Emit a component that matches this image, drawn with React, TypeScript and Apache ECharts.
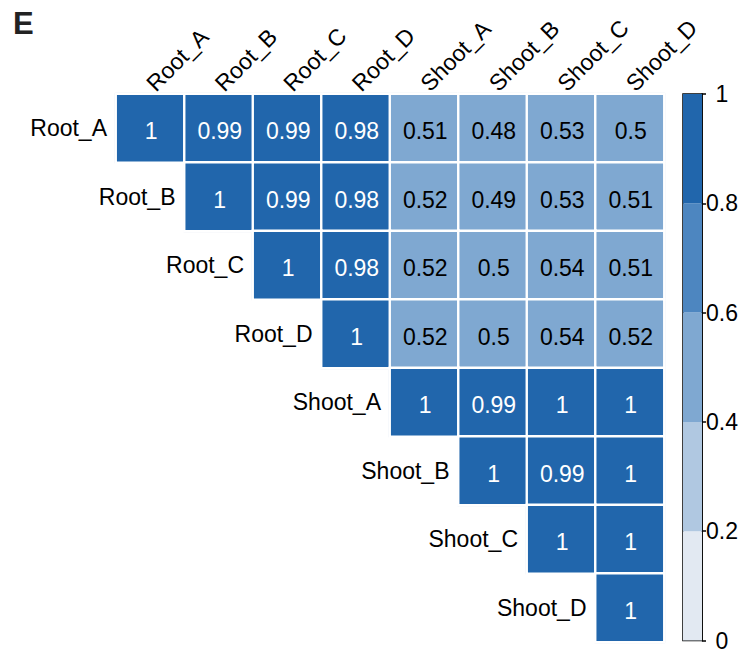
import React, { useEffect, useRef } from "react";
import * as echarts from "echarts";

// Sample names (shared by rows and columns)
const sampleNames = ["Root_A", "Root_B", "Root_C", "Root_D", "Shoot_A", "Shoot_B", "Shoot_C", "Shoot_D"];

// Upper-triangle correlation rows, each starting at the diagonal
const rowRootA = [1, 0.99, 0.99, 0.98, 0.51, 0.48, 0.53, 0.5];
const rowRootB = [1, 0.99, 0.98, 0.52, 0.49, 0.53, 0.51];
const rowRootC = [1, 0.98, 0.52, 0.5, 0.54, 0.51];
const rowRootD = [1, 0.52, 0.5, 0.54, 0.52];
const rowShootA = [1, 0.99, 1, 1];
const rowShootB = [1, 0.99, 1];
const rowShootC = [1, 1];
const rowShootD = [1];

// Colour bands of the legend scale
const bandEdges = [0, 0.2, 0.4, 0.6, 0.8, 1];
const bandColors = ["#e2e9f2", "#b0c8e1", "#7fa8d1", "#4d86c0", "#2166ac"];
const colorbarTicks = [0, 0.2, 0.4, 0.6, 0.8, 1];

const FONT = "'Liberation Sans', Arial, Helvetica, sans-serif";

export default function App() {
  const ref = useRef<HTMLDivElement>(null);

  useEffect(() => {
    if (!ref.current) return;
    const chart = echarts.init(ref.current, null, { renderer: "svg" });

    const rows = [rowRootA, rowRootB, rowRootC, rowRootD, rowShootA, rowShootB, rowShootC, rowShootD];
    const cells: { value: [number, number, number]; label: { color: string } }[] = [];
    rows.forEach((row, r) => {
      row.forEach((v, k) => {
        cells.push({ value: [r + k, r, v], label: { color: v >= 0.8 ? "#ffffff" : "#000000" } });
      });
    });
    const diag = sampleNames.map((_, i) => [i, i]);

    const pieces = bandColors.map((c, i) => ({
      gte: bandEdges[i],
      lt: i === bandColors.length - 1 ? 1.0001 : bandEdges[i + 1],
      color: c,
    }));

    const barSeries = bandColors.map((c, i) => ({
      type: "bar" as const,
      stack: "scale",
      xAxisIndex: 1,
      yAxisIndex: 1,
      barWidth: "100%",
      data: [bandEdges[i + 1] - bandEdges[i]],
      itemStyle: { color: c },
      silent: true,
    }));

    chart.setOption({
      animation: false,
      backgroundColor: "#ffffff",
      textStyle: { fontFamily: FONT },
      graphic: [
        {
          type: "text",
          left: 13,
          top: 8,
          style: { text: "E", font: `bold 31px ${FONT}`, fill: "#222222" },
        },
      ],
      grid: [
        { left: 116, top: 94, width: 548, height: 548 },
        { left: 683, top: 94, width: 19, height: 548, show: true, borderColor: "#000", borderWidth: 1.5, backgroundColor: "transparent" },
      ],
      xAxis: [
        {
          type: "category",
          gridIndex: 0,
          data: sampleNames,
          position: "top",
          axisLine: { show: false },
          axisTick: { show: false },
          splitLine: { show: false },
          axisLabel: { rotate: -45, fontSize: 23, color: "#000", fontFamily: FONT, margin: 7, interval: 0 },
        },
        { type: "category", gridIndex: 1, data: [""], show: false },
      ],
      yAxis: [
        {
          type: "category",
          gridIndex: 0,
          data: sampleNames,
          inverse: true,
          axisLine: { show: false },
          axisTick: { show: false },
          axisLabel: { show: false },
          splitLine: { show: false },
        },
        {
          type: "value",
          gridIndex: 1,
          min: colorbarTicks[0],
          max: colorbarTicks[colorbarTicks.length - 1],
          interval: 0.2,
          position: "right",
          axisLine: { show: true, lineStyle: { color: "#000", width: 1.5 } },
          axisTick: { show: true, length: 4, lineStyle: { color: "#000", width: 1.5 } },
          axisLabel: { fontSize: 23, color: "#000", fontFamily: FONT, margin: 20, align: "center" },
          splitLine: { show: false },
        },
      ],
      visualMap: {
        type: "piecewise",
        show: false,
        seriesIndex: 1,
        dimension: 2,
        pieces,
      },
      series: [
        {
          // faint outline around each cell
          type: "custom",
          xAxisIndex: 0,
          yAxisIndex: 0,
          z: 1,
          silent: true,
          data: cells.map((c) => [c.value[0], c.value[1]]),
          renderItem: (_params: any, api: any) => {
            const p = api.coord([api.value(0), api.value(1)]);
            const s = api.size([1, 1]);
            return {
              type: "rect",
              shape: { x: p[0] - s[0] / 2 - 0.8, y: p[1] - s[1] / 2 - 0.8, width: s[0] + 1.6, height: s[1] + 1.6 },
              style: { fill: "none", stroke: "#d3deea", lineWidth: 1 },
            };
          },
        },
        {
          type: "heatmap",
          xAxisIndex: 0,
          yAxisIndex: 0,
          z: 2,
          data: cells,
          itemStyle: { borderColor: "#ffffff", borderWidth: 2.4 },
          label: {
            show: true,
            fontSize: 23,
            fontFamily: FONT,
            offset: [1, 3],
            formatter: (p: any) => String(p.value[2]),
          },
          emphasis: { disabled: true },
        },
        {
          // row names placed just left of each diagonal cell
          type: "custom",
          xAxisIndex: 0,
          yAxisIndex: 0,
          z: 3,
          silent: true,
          data: diag,
          renderItem: (params: any, api: any) => {
            const p = api.coord([api.value(0), api.value(1)]);
            const s = api.size([1, 1]);
            return {
              type: "text",
              x: p[0] - s[0] / 2 - 9,
              y: p[1],
              style: {
                text: sampleNames[params.dataIndex],
                font: `23px ${FONT}`,
                fill: "#000",
                align: "right",
                verticalAlign: "middle",
              },
            };
          },
        },
        ...barSeries,
      ],
    });

    return () => chart.dispose();
  }, []);

  return (
    <div
      ref={ref}
      style={{ position: "fixed", left: 0, top: 0, width: 753, height: 652, background: "#fff" }}
    />
  );
}
